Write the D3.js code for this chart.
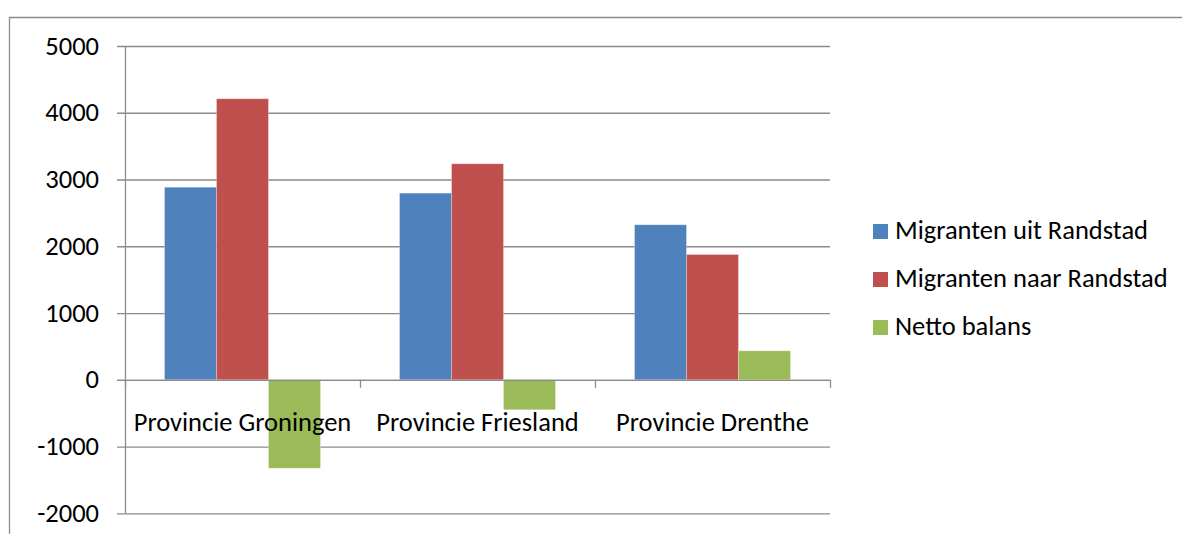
<!DOCTYPE html>
<html><head><meta charset="utf-8">
<script src="https://cdn.jsdelivr.net/npm/d3@7/dist/d3.min.js"></script>
<style>body{margin:0;background:#fff}svg{display:block}text{font-family:Carlito,Lato,sans-serif;fill:#000}</style>
</head><body><svg id="c" width="1182" height="534"></svg>
<script>
const categories = ["Provincie Groningen", "Provincie Friesland", "Provincie Drenthe"];
const seriesNames = ["Migranten uit Randstad", "Migranten naar Randstad", "Netto balans"];
const uitRandstad = [2885, 2796, 2322];
const naarRandstad = [4210, 3236, 1877];
const nettoBalans = [-1325, -449, 434];
const yTicks = [-2000, -1000, 0, 1000, 2000, 3000, 4000, 5000];
const colors = ["#4F81BD", "#C0504D", "#9BBB59"];

const series = [uitRandstad, naarRandstad, nettoBalans];
const svg = d3.select("#c");
const FS = 26.5;
// outer border
svg.append("path").attr("d","M9.5,534 V17.5 H1182").attr("fill","none").attr("stroke","#8c8c8c").attr("stroke-width",1.3);

const x0 = 125, x1 = 830;
const y = d3.scaleLinear().domain([-2000, 5000]).range([513.3, 46]);
const x = d3.scaleBand().domain(categories).range([x0, x1]).paddingInner(0).paddingOuter(0);
const xs = d3.scaleBand().domain(seriesNames).range([0, x.bandwidth()]).paddingInner(0).paddingOuter(0.76);

// gridlines
svg.append("g").selectAll("line").data(yTicks).join("line")
  .attr("x1", x0 - 8).attr("x2", x1).attr("y1", d => y(d) + 0.5).attr("y2", d => y(d) + 0.5)
  .attr("stroke", "#8c8c8c").attr("stroke-width", 1.3);
// y axis line
svg.append("line").attr("x1", x0 + 0.5).attr("x2", x0 + 0.5).attr("y1", y(5000)).attr("y2", y(-2000) + 0.5)
  .attr("stroke", "#8c8c8c").attr("stroke-width", 1.3);
// y labels
svg.append("g").selectAll("text").data(yTicks).join("text")
  .attr("x", 99).attr("y", d => y(d) + 8.5).attr("text-anchor", "end")
  .attr("font-size", FS).text(d => d);

// bars
categories.forEach((c, i) => {
  series.forEach((s, j) => {
    const v = s[i];
    svg.append("rect")
      .attr("x", x(c) + xs(seriesNames[j]))
      .attr("width", xs.bandwidth())
      .attr("y", y(Math.max(0, v)))
      .attr("height", Math.abs(y(v) - y(0)))
      .attr("fill", colors[j])
      .attr("stroke", "rgba(255,255,255,0.35)").attr("stroke-width", 0.8);
  });
});

// zero axis line
svg.append("line").attr("x1", x0 - 8).attr("x2", x1).attr("y1", y(0) + 0.5).attr("y2", y(0) + 0.5)
  .attr("stroke", "#8c8c8c").attr("stroke-width", 1.3);
// category ticks
const bounds = [x0].concat(categories.map(c => x(c) + x.bandwidth()));
svg.append("g").selectAll("line").data(bounds).join("line")
  .attr("x1", d => d + 0.5).attr("x2", d => d + 0.5).attr("y1", y(0)).attr("y2", y(0) + 8)
  .attr("stroke", "#8c8c8c").attr("stroke-width", 1.3);
// category labels
svg.append("g").selectAll("text").data(categories).join("text")
  .attr("x", d => x(d) + x.bandwidth() / 2).attr("y", 431).attr("text-anchor", "middle")
  .attr("font-size", FS).text(d => d);

// legend
const lg = svg.append("g");
seriesNames.forEach((n, j) => {
  const base = 239 + j * 48;
  lg.append("rect").attr("x", 873).attr("y", base - 15).attr("width", 15).attr("height", 15).attr("fill", colors[j]);
  lg.append("text").attr("x", 895).attr("y", base).attr("font-size", FS).text(n);
});
</script></body></html>
